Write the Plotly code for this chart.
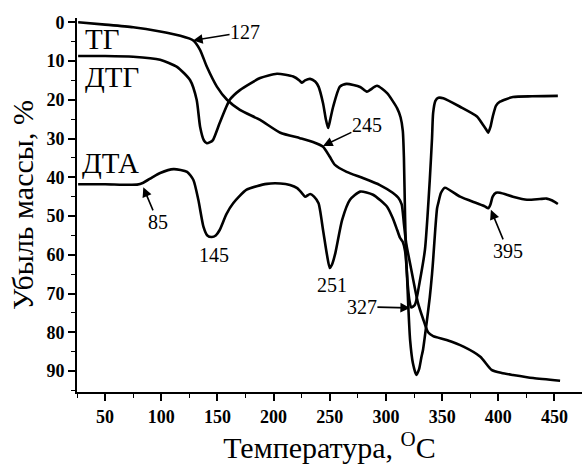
import plotly.graph_objects as go

# ---------------- data ----------------
tg_temp = [26, 50, 75, 99, 117, 128.5, 134.5, 140.6, 149.5, 158.5, 170, 188, 206, 223.5, 235, 244,
           250, 254.6, 265, 279.5, 294.6, 306, 311, 314, 316, 318, 322, 328.5, 333, 337.5, 342,
           354, 369, 384, 394, 403, 413, 431, 455]
tg_loss = [0, 0.6, 1.3, 2.4, 3.5, 4.7, 7.1, 11.5, 16.6, 20, 22.6, 25.2, 28.5, 29.9, 30.9, 32.1,
           34.7, 36.8, 38.6, 40.2, 42, 44, 45.3, 47, 52, 57, 63, 72.4, 76.5, 80, 81,
           82, 83.7, 86.3, 89.7, 90.5, 91, 91.8, 92.5]

dtg_temp = [26, 50, 75, 99, 114, 125.6, 131.5, 134.6, 138, 140.6, 143, 146, 152, 161, 170, 188,
            203, 217.5, 223, 225, 228, 232.5, 237, 240, 244, 246.5, 248.5, 250.5, 253, 259, 265,
            277, 283, 292, 301, 310, 313, 315, 316, 317, 318, 319.5, 321, 322.5, 325.8, 330,
            334.7, 337, 339, 341, 342, 344, 346.7, 351, 366, 381, 386.5, 389.5, 391, 393, 395,
            398, 401.5, 413, 430, 453]
dtg_sig = [8.7, 8.7, 8.9, 9.7, 11.5, 14.9, 20, 27, 30.5, 31.2, 31, 30.4, 26, 20, 17.5, 14.4,
           13.3, 14, 15, 15.6, 15, 14.6, 15.3, 16.6, 20.9, 25, 27.3, 25, 21.8, 16.6, 15.9,
           16.7, 17.9, 16.4, 18.3, 22.2, 24.5, 28, 35, 50, 61, 68, 72, 73.6, 72.9, 67,
           58.7, 50, 40.7, 30, 23.4, 20.3, 19.5, 19.6, 21.8, 24.3, 26.5, 27.8, 28.5, 27, 24.4,
           21.5, 20.5, 19.3, 19.1, 19]

dta_temp = [26, 50, 78.5, 84, 92, 99, 111, 123, 128.6, 133, 137.6, 141, 145, 148.5, 152, 158,
            164, 176, 194, 206, 214.6, 221, 225, 228, 232.5, 236, 240, 244, 247.5, 250, 252,
            255, 261, 268, 277, 288.5, 301, 306, 310, 312.5, 315, 317, 318.5, 320, 321.5, 324,
            327, 329.5, 331.5, 333, 336, 339, 341, 342, 344, 345.5, 346.6, 349, 352.5, 366, 381,
            388, 391, 393, 395, 398, 401.5, 413, 425.5, 437, 443, 448, 453]
dta_sig = [41.8, 41.8, 41.9, 41.4, 40, 38.9, 37.9, 38.6, 40.7, 45.8, 52.8, 55, 55.4, 55, 53.6, 49.5,
           46.7, 43.2, 41.7, 41.6, 42, 42.8, 44, 45, 44.3, 45, 46.7, 53.6, 60, 63.4, 62.5,
           59.5, 51, 45.8, 43.7, 44.5, 47.6, 50.5, 53.6, 55.6, 56.7, 59, 64, 74, 82, 88,
           91, 89.5, 86.5, 84.5, 78, 71, 65, 61.3, 53, 48, 46.6, 44, 42.7, 45, 46.7,
           47.5, 48, 47, 45, 44, 44, 45, 45.8, 45.6, 45.5, 46, 46.9]

curve_names = ["ТГ", "ДТГ", "ДТА"]
peak_labels = ["127", "245", "85", "327", "395", "145", "251"]

# ---------------- figure ----------------
FONT = "Liberation Serif, Times New Roman, serif"
fig = go.Figure()
for xs, ys in [(tg_temp, tg_loss), (dtg_temp, dtg_sig), (dta_temp, dta_sig)]:
    fig.add_trace(go.Scatter(x=xs, y=ys, mode="lines",
                             line=dict(color="black", width=2.6, shape="spline", smoothing=0.6),
                             showlegend=False, hoverinfo="skip"))

# curve names
name_pos = [(47.5, 4.3), (56, 14.0), (55, 36.3)]
for name, (x, y) in zip(curve_names, name_pos):
    fig.add_annotation(x=x, y=y, text=name, showarrow=False,
                       font=dict(family=FONT, size=29, color="black"))

# peak labels: (text centre), (arrow tip or None)
label_specs = [((174.6, 2.5), (128.3, 4.7)),
               ((283, 26.5), (244, 31.9)),
               ((97, 51.5), (84, 42.6)),
               ((278.6, 73.4), (321.4, 73.7)),
               ((408.5, 59), (393.4, 48.4)),
               ((147, 60), None),
               ((252, 67.8), None)]
for txt, (tpos, tip) in zip(peak_labels, label_specs):
    if tip is None:
        fig.add_annotation(x=tpos[0], y=tpos[1], text=txt, showarrow=False,
                           font=dict(family=FONT, size=20, color="black"))
    else:
        fig.add_annotation(x=tip[0], y=tip[1], ax=tpos[0], ay=tpos[1], axref="x", ayref="y",
                           text=txt, showarrow=True, arrowhead=2, arrowsize=1.2, arrowwidth=1.6,
                           arrowcolor="black", borderpad=0, standoff=0,
                           font=dict(family=FONT, size=20, color="black"))

axis_common = dict(showline=True, linecolor="black", linewidth=2, ticks="outside",
                   ticklen=7, tickwidth=1.6, tickcolor="black", showgrid=False, zeroline=False,
                   mirror=False,
                   tickfont=dict(family=FONT, size=18, color="black", weight="bold"))

fig.update_xaxes(range=[25, 474.5], dtick=50, tick0=0,
                 minor=dict(dtick=25, tick0=0, ticks="outside", ticklen=4, tickwidth=1.4,
                            tickcolor="black"),
                 title=dict(text="Температура, <sup>O</sup>C",
                            font=dict(family=FONT, size=30, color="black"), standoff=6),
                 **axis_common)
fig.update_yaxes(range=[95.4, -1.1], dtick=10, tick0=0,
                 minor=dict(dtick=5, tick0=0, ticks="outside", ticklen=4, tickwidth=1.4,
                            tickcolor="black"),
                 title=dict(text="Убыль массы, %",
                            font=dict(family=FONT, size=30, color="black"), standoff=4),
                 **axis_common)

fig.update_layout(width=582, height=466, margin=dict(l=77, r=0, t=18, b=74),
                  plot_bgcolor="white", paper_bgcolor="white")

fig.write_html("out.html", config={"displayModeBar": False},
               post_script=["document.body.style.margin='0px';"
                            "document.body.style.overflow='hidden';"])
